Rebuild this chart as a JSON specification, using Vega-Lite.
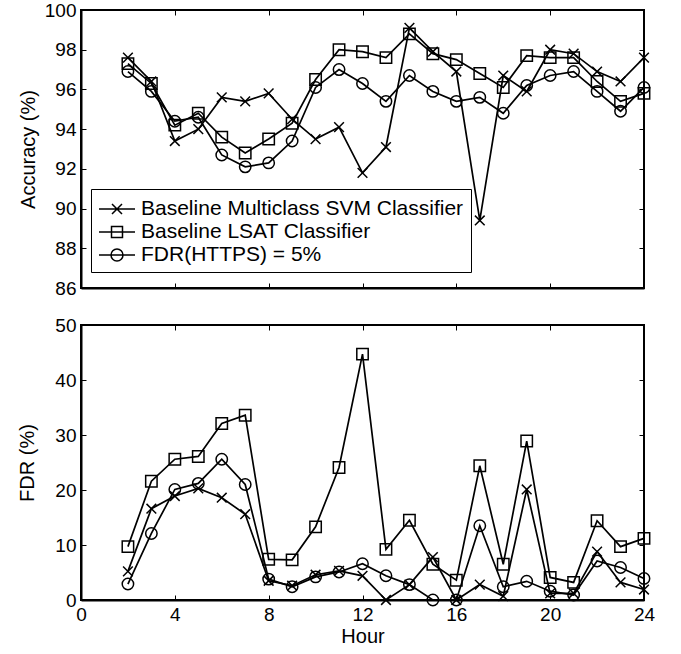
{
  "$schema": "https://vega.github.io/schema/vega-lite/v6.json",
  "padding": {"left": 16, "top": 0, "right": 5, "bottom": 0},
  "background": "white",
  "bounds": "flush",
  "spacing": 37,
  "config": {
    "font": "Liberation Sans",
    "view": {"stroke": "black", "strokeWidth": 2},
    "axis": {
      "grid": false,
      "domainColor": "black",
      "domainWidth": 2,
      "tickColor": "black",
      "tickWidth": 1,
      "tickSize": -5,
      "labelFontSize": 19,
      "labelColor": "black",
      "labelPadding": 10,
      "labelFlush": false,
      "labelOverlap": false,
      "titleFontSize": 20,
      "titleFontWeight": "normal",
      "titleColor": "black"
    }
  },
  "datasets": {
    "d": [
      {"hour": 2, "series": "Baseline Multiclass SVM Classifier", "acc": 97.6, "fdr": 5.2},
      {"hour": 3, "series": "Baseline Multiclass SVM Classifier", "acc": 96.4, "fdr": 16.6},
      {"hour": 4, "series": "Baseline Multiclass SVM Classifier", "acc": 93.4, "fdr": 18.9},
      {"hour": 5, "series": "Baseline Multiclass SVM Classifier", "acc": 94.0, "fdr": 20.3},
      {"hour": 6, "series": "Baseline Multiclass SVM Classifier", "acc": 95.6, "fdr": 18.6},
      {"hour": 7, "series": "Baseline Multiclass SVM Classifier", "acc": 95.4, "fdr": 15.6},
      {"hour": 8, "series": "Baseline Multiclass SVM Classifier", "acc": 95.8, "fdr": 3.5},
      {"hour": 9, "series": "Baseline Multiclass SVM Classifier", "acc": 94.5, "fdr": 2.6},
      {"hour": 10, "series": "Baseline Multiclass SVM Classifier", "acc": 93.5, "fdr": 4.6},
      {"hour": 11, "series": "Baseline Multiclass SVM Classifier", "acc": 94.1, "fdr": 5.3},
      {"hour": 12, "series": "Baseline Multiclass SVM Classifier", "acc": 91.8, "fdr": 4.4},
      {"hour": 13, "series": "Baseline Multiclass SVM Classifier", "acc": 93.1, "fdr": 0.0},
      {"hour": 14, "series": "Baseline Multiclass SVM Classifier", "acc": 99.1, "fdr": 2.8},
      {"hour": 15, "series": "Baseline Multiclass SVM Classifier", "acc": 97.9, "fdr": 7.8},
      {"hour": 16, "series": "Baseline Multiclass SVM Classifier", "acc": 96.9, "fdr": 0.0},
      {"hour": 17, "series": "Baseline Multiclass SVM Classifier", "acc": 89.4, "fdr": 2.8},
      {"hour": 18, "series": "Baseline Multiclass SVM Classifier", "acc": 96.7, "fdr": 0.7},
      {"hour": 19, "series": "Baseline Multiclass SVM Classifier", "acc": 95.9, "fdr": 20.1},
      {"hour": 20, "series": "Baseline Multiclass SVM Classifier", "acc": 98.0, "fdr": 1.2},
      {"hour": 21, "series": "Baseline Multiclass SVM Classifier", "acc": 97.8, "fdr": 1.2},
      {"hour": 22, "series": "Baseline Multiclass SVM Classifier", "acc": 96.9, "fdr": 8.8},
      {"hour": 23, "series": "Baseline Multiclass SVM Classifier", "acc": 96.4, "fdr": 3.2},
      {"hour": 24, "series": "Baseline Multiclass SVM Classifier", "acc": 97.6, "fdr": 1.9},
      {"hour": 2, "series": "Baseline LSAT Classifier", "acc": 97.3, "fdr": 9.7},
      {"hour": 3, "series": "Baseline LSAT Classifier", "acc": 96.3, "fdr": 21.6},
      {"hour": 4, "series": "Baseline LSAT Classifier", "acc": 94.2, "fdr": 25.6},
      {"hour": 5, "series": "Baseline LSAT Classifier", "acc": 94.8, "fdr": 26.1},
      {"hour": 6, "series": "Baseline LSAT Classifier", "acc": 93.6, "fdr": 32.1},
      {"hour": 7, "series": "Baseline LSAT Classifier", "acc": 92.8, "fdr": 33.6},
      {"hour": 8, "series": "Baseline LSAT Classifier", "acc": 93.5, "fdr": 7.4},
      {"hour": 9, "series": "Baseline LSAT Classifier", "acc": 94.3, "fdr": 7.3},
      {"hour": 10, "series": "Baseline LSAT Classifier", "acc": 96.5, "fdr": 13.3},
      {"hour": 11, "series": "Baseline LSAT Classifier", "acc": 98.0, "fdr": 24.1},
      {"hour": 12, "series": "Baseline LSAT Classifier", "acc": 97.9, "fdr": 44.7},
      {"hour": 13, "series": "Baseline LSAT Classifier", "acc": 97.6, "fdr": 9.2},
      {"hour": 14, "series": "Baseline LSAT Classifier", "acc": 98.8, "fdr": 14.5},
      {"hour": 15, "series": "Baseline LSAT Classifier", "acc": 97.8, "fdr": 6.5},
      {"hour": 16, "series": "Baseline LSAT Classifier", "acc": 97.5, "fdr": 3.6},
      {"hour": 17, "series": "Baseline LSAT Classifier", "acc": 96.8, "fdr": 24.4},
      {"hour": 18, "series": "Baseline LSAT Classifier", "acc": 96.1, "fdr": 6.5},
      {"hour": 19, "series": "Baseline LSAT Classifier", "acc": 97.7, "fdr": 28.9},
      {"hour": 20, "series": "Baseline LSAT Classifier", "acc": 97.6, "fdr": 4.1},
      {"hour": 21, "series": "Baseline LSAT Classifier", "acc": 97.6, "fdr": 3.2},
      {"hour": 22, "series": "Baseline LSAT Classifier", "acc": 96.4, "fdr": 14.4},
      {"hour": 23, "series": "Baseline LSAT Classifier", "acc": 95.4, "fdr": 9.7},
      {"hour": 24, "series": "Baseline LSAT Classifier", "acc": 95.8, "fdr": 11.2},
      {"hour": 2, "series": "FDR(HTTPS) = 5%", "acc": 96.9, "fdr": 2.9},
      {"hour": 3, "series": "FDR(HTTPS) = 5%", "acc": 95.9, "fdr": 12.1},
      {"hour": 4, "series": "FDR(HTTPS) = 5%", "acc": 94.4, "fdr": 20.1},
      {"hour": 5, "series": "FDR(HTTPS) = 5%", "acc": 94.6, "fdr": 21.2},
      {"hour": 6, "series": "FDR(HTTPS) = 5%", "acc": 92.7, "fdr": 25.6},
      {"hour": 7, "series": "FDR(HTTPS) = 5%", "acc": 92.1, "fdr": 21.0},
      {"hour": 8, "series": "FDR(HTTPS) = 5%", "acc": 92.3, "fdr": 3.8},
      {"hour": 9, "series": "FDR(HTTPS) = 5%", "acc": 93.4, "fdr": 2.4},
      {"hour": 10, "series": "FDR(HTTPS) = 5%", "acc": 96.1, "fdr": 4.2},
      {"hour": 11, "series": "FDR(HTTPS) = 5%", "acc": 97.0, "fdr": 5.1},
      {"hour": 12, "series": "FDR(HTTPS) = 5%", "acc": 96.3, "fdr": 6.6},
      {"hour": 13, "series": "FDR(HTTPS) = 5%", "acc": 95.4, "fdr": 4.4},
      {"hour": 14, "series": "FDR(HTTPS) = 5%", "acc": 96.7, "fdr": 2.8},
      {"hour": 15, "series": "FDR(HTTPS) = 5%", "acc": 95.9, "fdr": 0.0},
      {"hour": 16, "series": "FDR(HTTPS) = 5%", "acc": 95.4, "fdr": 0.0},
      {"hour": 17, "series": "FDR(HTTPS) = 5%", "acc": 95.6, "fdr": 13.5},
      {"hour": 18, "series": "FDR(HTTPS) = 5%", "acc": 94.8, "fdr": 2.4},
      {"hour": 19, "series": "FDR(HTTPS) = 5%", "acc": 96.2, "fdr": 3.4},
      {"hour": 20, "series": "FDR(HTTPS) = 5%", "acc": 96.7, "fdr": 1.6},
      {"hour": 21, "series": "FDR(HTTPS) = 5%", "acc": 96.9, "fdr": 0.9},
      {"hour": 22, "series": "FDR(HTTPS) = 5%", "acc": 95.9, "fdr": 7.1},
      {"hour": 23, "series": "FDR(HTTPS) = 5%", "acc": 94.9, "fdr": 5.9},
      {"hour": 24, "series": "FDR(HTTPS) = 5%", "acc": 96.1, "fdr": 3.9}
    ]
  },
  "vconcat": [
    {
      "width": 563,
      "height": 278,
      "data": {"name": "d"},
      "layer": [
        {
          "mark": {"type": "line", "color": "black", "strokeWidth": 1.7},
          "encoding": {
            "x": {"field": "hour", "type": "quantitative", "scale": {"domain": [0, 24], "nice": false},
                  "axis": {"orient": "top", "labels": false, "domain": false, "title": null, "values": [0, 4, 8, 12, 16, 20, 24]}},
            "y": {"field": "acc", "type": "quantitative", "scale": {"domain": [86, 100], "nice": false, "zero": false},
                  "axis": {"orient": "right", "labels": false, "domain": false, "title": null, "values": [86, 88, 90, 92, 94, 96, 98, 100]}},
            "detail": {"field": "series"}
          }
        },
        {
          "mark": {"type": "point", "filled": false, "color": "black", "strokeWidth": 1.5, "size": 130, "opacity": 1},
          "encoding": {
            "x": {"field": "hour", "type": "quantitative",
                  "axis": {"orient": "bottom", "labels": false, "title": null, "values": [0, 4, 8, 12, 16, 20, 24]}},
            "y": {"field": "acc", "type": "quantitative",
                  "axis": {"orient": "left", "title": "Accuracy (%)", "titlePadding": 6, "values": [86, 88, 90, 92, 94, 96, 98, 100]}},
            "shape": {"field": "series", "type": "nominal",
                      "scale": {"domain": ["Baseline Multiclass SVM Classifier", "Baseline LSAT Classifier", "FDR(HTTPS) = 5%"],
                                "range": ["M-0.85,-0.85L0.85,0.85M-0.85,0.85L0.85,-0.85", "square", "circle"]},
                      "legend": null}
          }
        },
        {
          "transform": [{"filter": "false"}],
          "mark": {"type": "point", "filled": false, "color": "black", "strokeWidth": 1.5},
          "encoding": {
            "x": {"field": "hour", "type": "quantitative", "axis": null},
            "y": {"field": "acc", "type": "quantitative", "axis": null},
            "shape": {"field": "series", "type": "nominal",
                      "scale": {"domain": ["Baseline Multiclass SVM Classifier", "Baseline LSAT Classifier", "FDR(HTTPS) = 5%"],
                                "range": [
                                  "M-1,0H2M0.083,-0.417L0.917,0.417M0.083,0.417L0.917,-0.417",
                                  "M-1,0H2M0.042,-0.458H0.958V0.458H0.042Z",
                                  "M-1,0H2M1,0A0.5,0.5 0 1,1 0,0A0.5,0.5 0 1,1 1,0"
                                ]},
                      "legend": {
                        "title": null,
                        "orient": "none",
                        "legendX": 10,
                        "legendY": 179,
                        "fillColor": "white",
                        "strokeColor": "black",
                        "padding": 7,
                        "symbolSize": 576,
                        "symbolStrokeWidth": 1.5,
                        "symbolStrokeColor": "black",
                        "symbolFillColor": "transparent",
                        "symbolOpacity": 1,
                        "labelFontSize": 21,
                        "labelColor": "black",
                        "labelOffset": 17,
                        "labelLimit": 400,
                        "rowPadding": 0
                      }}
          }
        }
      ],
      "resolve": {"axis": {"x": "independent", "y": "independent"}, "scale": {"shape": "independent"}, "legend": {"shape": "independent"}}
    },
    {
      "width": 563,
      "height": 275,
      "data": {"name": "d"},
      "layer": [
        {
          "mark": {"type": "line", "color": "black", "strokeWidth": 1.7},
          "encoding": {
            "x": {"field": "hour", "type": "quantitative", "scale": {"domain": [0, 24], "nice": false},
                  "axis": {"orient": "top", "labels": false, "domain": false, "title": null, "values": [0, 4, 8, 12, 16, 20, 24]}},
            "y": {"field": "fdr", "type": "quantitative", "scale": {"domain": [0, 50], "nice": false},
                  "axis": {"orient": "right", "labels": false, "domain": false, "title": null, "values": [0, 10, 20, 30, 40, 50]}},
            "detail": {"field": "series"}
          }
        },
        {
          "mark": {"type": "point", "filled": false, "color": "black", "strokeWidth": 1.5, "size": 130, "opacity": 1},
          "encoding": {
            "x": {"field": "hour", "type": "quantitative",
                  "axis": {"orient": "bottom", "title": "Hour", "titlePadding": 2, "values": [0, 4, 8, 12, 16, 20, 24]}},
            "y": {"field": "fdr", "type": "quantitative",
                  "axis": {"orient": "left", "title": "FDR (%)", "titlePadding": 17, "values": [0, 10, 20, 30, 40, 50]}},
            "shape": {"field": "series", "type": "nominal",
                      "scale": {"domain": ["Baseline Multiclass SVM Classifier", "Baseline LSAT Classifier", "FDR(HTTPS) = 5%"],
                                "range": ["M-0.85,-0.85L0.85,0.85M-0.85,0.85L0.85,-0.85", "square", "circle"]},
                      "legend": null}
          }
        }
      ],
      "resolve": {"axis": {"x": "independent", "y": "independent"}}
    }
  ]
}
